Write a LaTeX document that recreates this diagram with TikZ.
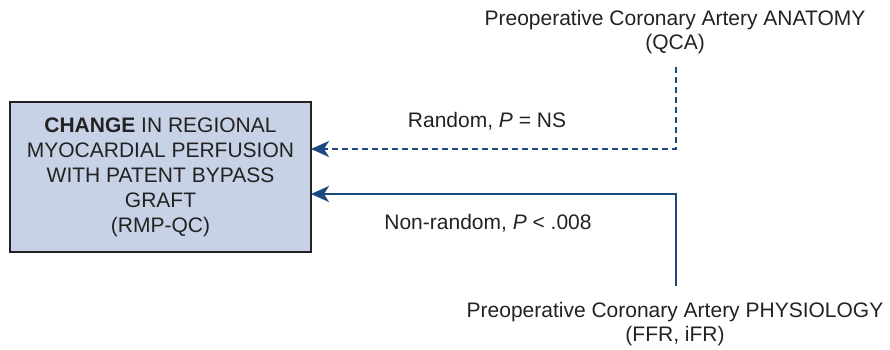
\documentclass[tikz,border=0pt]{standalone}
\usepackage{fontspec}
\setmainfont{Liberation Sans}
\usetikzlibrary{arrows.meta}
\definecolor{linkblue}{RGB}{26,74,128}
\definecolor{boxfill}{RGB}{200,210,230}
\definecolor{inkgray}{RGB}{34,34,34}
\tikzset{
  outcome/.style={draw=inkgray, line width=2pt, fill=boxfill, minimum width=301pt,
    minimum height=150pt, align=center, text=inkgray, inner sep=0pt, outer sep=0pt,
    font=\fontsize{21}{25}\selectfont},
  source/.style={align=center, text=inkgray, inner sep=0pt, font=\fontsize{21}{24.5}\selectfont},
  tag/.style={text=inkgray, inner sep=0pt, font=\fontsize{21}{25}\selectfont},
  link/.style={draw=linkblue, line width=2pt, -{Stealth[length=18pt, width=16pt, inset=5pt]}},
  weaklink/.style={link, dash pattern=on 6pt off 4pt}
}
\begin{document}
\begin{tikzpicture}[x=1pt, y=-1pt]
  \useasboundingbox (0,0) rectangle (890,349);
  % outcome box
  \node[outcome] (box) at (160.5,177) {\textbf{CHANGE} IN REGIONAL\\MYOCARDIAL PERFUSION\\WITH PATENT BYPASS\\GRAFT\\(RMP-QC)};
  % predictors
  \node[source] (anat) at (675,32) {Preoperative Coronary Artery ANATOMY\\(QCA)};
  \node[source] (phys) at (675,324) {Preoperative Coronary Artery PHYSIOLOGY\\(FFR, iFR)};
  \coordinate (aTop) at (676,67);
  \coordinate (pBot) at (676,286);
  % connectors
  \draw[weaklink] (aTop) |- ([yshift=28pt]box.east);
  \draw[link] (pBot) |- ([yshift=-17pt]box.east);
  % labels
  \node[tag] (lr) at (487,121) {Random, \textit{P} = NS};
  \node[tag] (ln) at (488,223) {Non-random, \textit{P} < .008};
\end{tikzpicture}
\end{document}
